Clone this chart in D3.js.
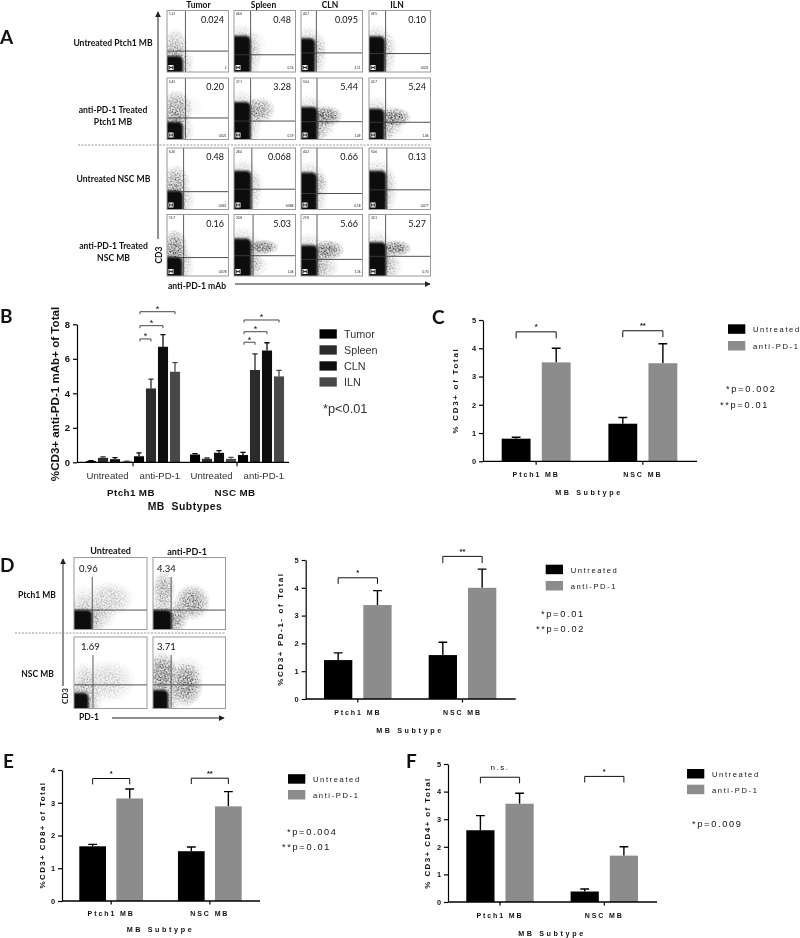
<!DOCTYPE html>
<html>
<head>
<meta charset="utf-8">
<title>anti-PD-1 flow panels</title>
<script src="https://cdnjs.cloudflare.com/ajax/libs/d3/7.8.5/d3.min.js"></script>
<style>
	html, body { margin: 0; padding: 0; background: #fff; }
	svg { display: block; filter: blur(0.3px); }
	text { fill: #111; }
	.arial { font-family: "Liberation Sans", Arial, sans-serif; }
	.lato { font-family: Lato, "Open Sans", sans-serif; }
</style>
</head>
<body>
<script>
//wrap everything in a self-executing function, same as the rest of our figures
(function(){

	//---- flow plots, panel A: 4 rows x 4 tissues
	var tissues = ["Tumor", "Spleen", "CLN", "ILN"];
	var bigA = [
		["0.024", "0.48", "0.095", "0.10"],
		["0.20", "3.28", "5.44", "5.24"],
		["0.48", "0.068", "0.66", "0.13"],
		["0.16", "5.03", "5.66", "5.27"]
	];
	var topLeftA = [
		["1.12", "46.0", "40.7", "49.5"],
		["5.43", "37.1", "50.4", "42.7"],
		["6.26", "28.4", "40.2", "50.6"],
		["15.7", "20.8", "27.8", "30.1"]
	];
	var bottomRightA = [
		["2", "0.16", "2.11", "0.031"],
		["0.021", "0.19", "1.49", "1.06"],
		["0.061", "0.088", "0.18", "0.077"],
		["0.078", "1.46", "1.36", "0.70"]
	];
	//gate positions as a fraction of each plot's axes
	var gateXA = [
		[0.30, 0.27, 0.25, 0.27],
		[0.30, 0.27, 0.26, 0.27],
		[0.27, 0.29, 0.26, 0.29],
		[0.27, 0.31, 0.26, 0.27]
	];
	var gateYA = [
		[0.34, 0.28, 0.31, 0.30],
		[0.35, 0.30, 0.29, 0.28],
		[0.29, 0.33, 0.26, 0.32],
		[0.30, 0.33, 0.27, 0.32]
	];
	//extent of the solid black population [x, y]
	var denseA = [
		[[0.26, 0.26], [0.27, 0.59], [0.23, 0.55], [0.26, 0.58]],
		[[0.26, 0.29], [0.27, 0.61], [0.27, 0.53], [0.25, 0.50]],
		[[0.26, 0.31], [0.28, 0.63], [0.26, 0.60], [0.28, 0.63]],
		[[0.25, 0.31], [0.28, 0.61], [0.27, 0.50], [0.28, 0.55]]
	];
	//speckled populations [cx, cy, rx, ry, density]
	var cloudsA = [
		[[[0.13, 0.42, 0.22, 0.30, 0.45]], [[0.32, 0.45, 0.25, 0.25, 0.12]], [[0.27, 0.42, 0.20, 0.22, 0.18]], [[0.30, 0.45, 0.18, 0.22, 0.12]]],
		[[[0.15, 0.50, 0.28, 0.32, 0.7], [0.42, 0.55, 0.2, 0.2, 0.08]], [[0.42, 0.48, 0.26, 0.22, 0.7]], [[0.42, 0.38, 0.26, 0.18, 1], [0.30, 0.18, 0.28, 0.2, 0.3]], [[0.43, 0.36, 0.26, 0.17, 1], [0.30, 0.18, 0.28, 0.2, 0.3]]],
		[[[0.14, 0.47, 0.24, 0.26, 0.6]], [[0.32, 0.45, 0.2, 0.25, 0.1]], [[0.31, 0.45, 0.14, 0.17, 0.3]], [[0.32, 0.45, 0.16, 0.25, 0.1]]],
		[[[0.13, 0.47, 0.22, 0.30, 0.85], [0.30, 0.30, 0.15, 0.2, 0.1]], [[0.47, 0.47, 0.27, 0.13, 1], [0.35, 0.18, 0.22, 0.2, 0.25]], [[0.44, 0.42, 0.27, 0.17, 1], [0.35, 0.15, 0.28, 0.22, 0.35]], [[0.45, 0.45, 0.25, 0.14, 1], [0.35, 0.15, 0.22, 0.22, 0.25]]]
	];

	//---- flow plots, panel D
	var bigD = ["0.96", "4.34", "1.69", "3.71"];
	var gateXD = [0.25, 0.25, 0.26, 0.25];
	var gateYD = [0.27, 0.27, 0.33, 0.33];
	var denseD = [[0.25, 0.27], [0.26, 0.27], [0.20, 0.22], [0.21, 0.26]];
	var cloudsD = [
		[[0.48, 0.42, 0.36, 0.26, 0.35], [0.35, 0.18, 0.25, 0.2, 0.25], [0.12, 0.45, 0.14, 0.2, 0.15]],
		[[0.15, 0.56, 0.17, 0.26, 0.6], [0.54, 0.38, 0.26, 0.26, 0.8], [0.34, 0.16, 0.16, 0.2, 0.5]],
		[[0.45, 0.38, 0.42, 0.32, 0.3], [0.13, 0.42, 0.16, 0.25, 0.25]],
		[[0.13, 0.50, 0.22, 0.30, 0.9], [0.46, 0.33, 0.24, 0.32, 0.9], [0.45, 0.55, 0.3, 0.2, 0.2]]
	];

	//---- panel B bars
	var groups = ["Ptch1 MB", "NSC MB"];
	var treatments = ["Untreated", "anti-PD-1"];
	var legendB = ["Tumor", "Spleen", "CLN", "ILN"];
	var colorsB = ["#030303", "#2b2b2b", "#0d0d0d", "#484848"];
	var meansB = [
		[0.08, 0.26, 0.18, 0.05, 0.35, 4.28, 6.70, 5.25],
		[0.45, 0.20, 0.55, 0.20, 0.42, 5.35, 6.48, 4.98]
	];
	var topsB = [
		[0.10, 0.31, 0.27, 0.07, 0.55, 4.82, 7.40, 5.78],
		[0.50, 0.25, 0.68, 0.28, 0.58, 6.28, 6.93, 5.33]
	];
	//[from bar, to bar, height] for each bracket
	var bracketsB = [
		[[4, 7, 8.73], [4, 6, 7.92], [4, 5, 7.15]],
		[[4, 7, 8.25], [4, 6, 7.57], [4, 5, 6.96]]
	];

	//---- panels C to F, two bars in each group
	var meansC = [[0.80, 3.50], [1.33, 3.47]];
	var topsC = [[0.85, 4.00], [1.55, 4.16]];
	var bracketsC = [[4.58, 4.35], [4.62, 4.39]];
	var starsC = ["*", "**"];

	var meansD = [[1.40, 3.38], [1.58, 4.00]];
	var topsD = [[1.66, 3.90], [2.04, 4.67]];
	var bracketsD = [[4.36, 4.14], [5.13, 4.89]];
	var starsD = ["*", "**"];

	var meansE = [[1.67, 3.13], [1.52, 2.89]];
	var topsE = [[1.73, 3.42], [1.65, 3.34]];
	var bracketsE = [[3.74, 3.56], [3.75, 3.57]];
	var starsE = ["*", "**"];

	var meansF = [[2.60, 3.56], [0.38, 1.68]];
	var topsF = [[3.13, 3.94], [0.47, 2.00]];
	var bracketsF = [[4.52, 4.30], [4.55, 4.33]];
	var starsF = ["n.s.", "*"];

	var twoColors = ["#000000", "#8c8c8c"];

	//hand placed dots for the speckle tile
	var speckleX = [1,4,7,10,12,2,5,8,11,0.5,3,6,9,12.5,1.5,4.5,7.5,10.5,2.5,5.5,9,11.5,0.5,3.5,6.5,8.5,12,1.5,5,7,10,3,11.5,6];
	var speckleY = [0.5,1.5,0.8,2,0.6,3,3.6,2.8,4,5,5.4,4.8,5.8,6.2,7,7.4,6.6,7.8,9,8.6,9.4,8.8,10.6,10.9,10.2,11.2,10.4,12.2,12.5,11.9,12.3,2.2,12.6,6.2];

	var svg = d3.select("body").append("svg")
		.attr("width", 800)
		.attr("height", 938);

	var defs = svg.append("defs");

	function addSpeckle(id, transform, r){
		var pat = defs.append("pattern")
			.attr("id", id)
			.attr("patternUnits", "userSpaceOnUse")
			.attr("patternTransform", transform)
			.attr("width", 13)
			.attr("height", 13);
		pat.selectAll("circle")
			.data(d3.range(speckleX.length))
			.enter().append("circle")
			.attr("cx", function(i){ return speckleX[i]; })
			.attr("cy", function(i){ return speckleY[i]; })
			.attr("r", r)
			.attr("fill", "#000");
	}
	addSpeckle("speckleA", "rotate(11)", 0.5);
	addSpeckle("speckleB", "rotate(57) scale(1.27)", 0.4);

	var fade = defs.append("radialGradient").attr("id", "fade");
	fade.append("stop").attr("offset", "35%").attr("stop-color", "#fff");
	fade.append("stop").attr("offset", "100%").attr("stop-color", "#000");

	defs.append("mask")
		.attr("id", "softEdge")
		.attr("maskContentUnits", "objectBoundingBox")
		.attr("x", 0).attr("y", 0).attr("width", 1).attr("height", 1)
		.append("rect")
		.attr("width", 1).attr("height", 1)
		.attr("fill", "url(#fade)");

	defs.append("filter")
		.attr("id", "soft")
		.attr("x", "-20%").attr("y", "-20%").attr("width", "140%").attr("height", "140%")
		.append("feGaussianBlur")
		.attr("stdDeviation", 1.1);

	var arrow = defs.append("marker")
		.attr("id", "arrowHead")
		.attr("viewBox", "0 0 8 8")
		.attr("refX", 7).attr("refY", 4)
		.attr("markerWidth", 6).attr("markerHeight", 6)
		.attr("markerUnits", "userSpaceOnUse")
		.attr("orient", "auto");
	arrow.append("path").attr("d", "M0,0L8,4L0,8Z").attr("fill", "#222");

	function label(str, x, y, opts){
		opts = opts || {};
		var t = svg.append("text")
			.attr("class", opts.font || "lato")
			.attr("x", x)
			.attr("y", y)
			.attr("text-anchor", opts.anchor || "middle")
			.style("font-size", (opts.size || 9) + "px")
			.style("font-weight", opts.weight || "bold")
			.text(str);
		if (opts.spacing) t.style("letter-spacing", opts.spacing + "px");
		if (opts.rotate) t.attr("transform", "rotate(-90," + x + "," + y + ")");
		return t;
	}

	var clipCount = 0;

	//one flow cytometry plot, everything in 0-1 axis fractions
	function flowPlot(box, p){
		var fx = d3.scaleLinear().domain([0, 1]).range([box.x0, box.x1]);
		var fy = d3.scaleLinear().domain([0, 1]).range([box.y1, box.y0]);
		var id = "plotClip" + (clipCount++);
		defs.append("clipPath").attr("id", id).append("rect")
			.attr("x", box.x0).attr("y", box.y0)
			.attr("width", box.x1 - box.x0).attr("height", box.y1 - box.y0);

		var g = svg.append("g");
		var inner = g.append("g").attr("clip-path", "url(#" + id + ")");

		//dots thrown off the edge of the black population count as one more cloud
		var clouds = p.clouds.concat([[p.dense[0] / 2, p.dense[1] / 2, p.dense[0] / 2 + 0.2, p.dense[1] / 2 + 0.22, 0.5]]);

		clouds.forEach(function(d){
			var x = fx(d[0] - d[2]), y = fy(d[1] + d[3]);
			var w = fx(d[0] + d[2]) - x, h = fy(d[1] - d[3]) - y;
			[["#000", d[4] * 0.16], ["url(#speckleA)", d[4]], ["url(#speckleB)", d[4]]].forEach(function(layer){
				inner.append("rect")
					.attr("x", x).attr("y", y)
					.attr("width", w).attr("height", h)
					.attr("fill", layer[0])
					.attr("fill-opacity", layer[1])
					.attr("mask", "url(#softEdge)");
			});
		});

		inner.append("rect")
			.attr("x", fx(-0.2))
			.attr("y", fy(p.dense[1]))
			.attr("width", fx(p.dense[0]) - fx(-0.2))
			.attr("height", fy(-0.2) - fy(p.dense[1]))
			.attr("rx", 5)
			.attr("fill", "#0a0a0a")
			.attr("filter", "url(#soft)");

		//gates
		g.append("line")
			.attr("x1", fx(p.gateX)).attr("x2", fx(p.gateX))
			.attr("y1", fy(p.gateTop === undefined ? 1 : p.gateTop)).attr("y2", fy(0))
			.attr("stroke", "#4a4a4a").attr("stroke-width", 0.9);
		g.append("line")
			.attr("x1", fx(0)).attr("x2", fx(1))
			.attr("y1", fy(p.gateY)).attr("y2", fy(p.gateY))
			.attr("stroke", "#3c3c3c").attr("stroke-width", 0.9);

		g.append("rect")
			.attr("x", box.x0).attr("y", box.y0)
			.attr("width", box.x1 - box.x0).attr("height", box.y1 - box.y0)
			.attr("fill", "none")
			.attr("stroke", "#9a9a9a").attr("stroke-width", 1);
	}

	function scaleMark(x, y){
		svg.append("rect").attr("x", x).attr("y", y).attr("width", 5).attr("height", 5).attr("fill", "#fff");
		svg.append("path")
			.attr("d", "M" + (x + 1.2) + "," + (y + 0.8) + "V" + (y + 4.2)
				+ "M" + (x + 3.8) + "," + (y + 0.8) + "V" + (y + 4.2)
				+ "M" + (x + 1.2) + "," + (y + 2.5) + "H" + (x + 3.8))
			.attr("stroke", "#000").attr("stroke-width", 0.8).attr("fill", "none");
	}

	//panel A grid
	var colLeft = [167, 234, 301, 369];
	var rowTop = [10.5, 78, 148, 214.5];
	var plotW = 61.5, plotH = 61.5;

	rowTop.forEach(function(top, r){
		colLeft.forEach(function(left, c){
			var box = {x0: left, x1: left + plotW, y0: top, y1: top + plotH};
			flowPlot(box, {
				clouds: cloudsA[r][c],
				dense: denseA[r][c],
				gateX: gateXA[r][c],
				gateY: gateYA[r][c]
			});
			scaleMark(left + 1.5, top + plotH - 7);
			label(bigA[r][c], box.x1 - 4.5, top + 12, {anchor: "end", size: 9, weight: "normal"});
			label(topLeftA[r][c], left + 2, top + 4.8, {anchor: "start", size: 3, weight: "normal"});
			label(bottomRightA[r][c], box.x1 - 2, box.y1 - 3, {anchor: "end", size: 3, weight: "normal"});
		});
	});

	tissues.forEach(function(t, i){
		label(t, [198.5, 263.5, 330, 397][i], 7.5, {size: 8.5});
	});
	label("Untreated Ptch1 MB", 113, 46, {size: 8.6});
	label("anti-PD-1 Treated", 113, 113, {size: 8.6});
	label("Ptch1 MB", 113, 124.5, {size: 8.6});
	label("Untreated NSC MB", 113.5, 182, {size: 8.6});
	label("anti-PD-1 Treated", 113.5, 249, {size: 8.6});
	label("NSC MB", 113.5, 260.5, {size: 8.6});
	label("CD3", 161.5, 255, {size: 8.5, rotate: true});
	label("anti-PD-1 mAb", 197, 289, {size: 8.6});

	function arrowLine(x1, y1, x2, y2){
		svg.append("line")
			.attr("x1", x1).attr("y1", y1).attr("x2", x2).attr("y2", y2)
			.attr("stroke", "#222").attr("stroke-width", 1)
			.attr("marker-end", "url(#arrowHead)");
	}
	function dashedLine(x1, x2, y){
		svg.append("line")
			.attr("x1", x1).attr("x2", x2).attr("y1", y).attr("y2", y)
			.attr("stroke", "#8a8a8a").attr("stroke-width", 0.9)
			.attr("stroke-dasharray", "2,1.4");
	}
	arrowLine(158, 239, 158, 12);
	arrowLine(235, 284, 430, 284);
	dashedLine(78, 431, 145);

	//panel D grid
	var boxesD = [
		{x0: 74, x1: 147, y0: 557.5, y1: 629.5},
		{x0: 153, x1: 225.5, y0: 557.5, y1: 629.5},
		{x0: 74, x1: 147, y0: 637, y1: 708.5},
		{x0: 153, x1: 225.5, y0: 637, y1: 708.5}
	];
	var bigDx = [79, 157, 81, 157];
	var bigDy = [572, 572, 649.5, 649.5];
	boxesD.forEach(function(box, i){
		flowPlot(box, {
			clouds: cloudsD[i],
			dense: denseD[i],
			gateX: gateXD[i],
			gateY: gateYD[i],
			gateTop: i < 2 ? 0.73 : 0.75
		});
		label(bigD[i], bigDx[i], bigDy[i], {anchor: "start", size: 9.5, weight: "normal"});
	});
	label("Untreated", 110.5, 554, {size: 9});
	label("anti-PD-1", 187, 555, {size: 9});
	label("Ptch1 MB", 37, 598, {size: 8.5});
	label("NSC MB", 37.5, 677, {size: 8.5});
	label("CD3", 68, 696, {size: 8, rotate: true});
	label("PD-1", 89, 720, {size: 8.5});
	arrowLine(63, 686, 63, 559);
	arrowLine(112, 718, 224, 718);
	dashedLine(15, 225.5, 633);

	//panel letters
	var letters = ["A", "B", "C", "D", "E", "F"];
	var letterX = [0, 0, 432, 0, 3, 406];
	var letterY = [44, 323, 324, 572, 768, 768];
	letters.forEach(function(l, i){
		label(l, letterX[i], letterY[i], {anchor: "start", size: 19});
	});

	//shared y axis + baseline
	function chartAxes(y, xAxisLeft, xAxisRight, yTicks, fontSize, spacing){
		var yAxis = svg.append("g")
			.attr("transform", "translate(" + xAxisLeft + ",0)")
			.call(d3.axisLeft(y).tickValues(yTicks).tickFormat(d3.format("d")).tickSize(4).tickSizeOuter(0));
		yAxis.selectAll("path, line").attr("stroke", "#000").attr("stroke-width", 1.2);
		yAxis.selectAll("text")
			.attr("class", "arial")
			.attr("fill", "#111")
			.style("font-size", fontSize + "px")
			.style("font-weight", "bold")
			.style("letter-spacing", spacing + "px");
		svg.append("line")
			.attr("x1", xAxisLeft).attr("x2", xAxisRight)
			.attr("y1", y(0)).attr("y2", y(0))
			.attr("stroke", "#000").attr("stroke-width", 1.3);
	}

	function errorBar(x, yBase, yTop, halfCap, color, w){
		svg.append("path")
			.attr("d", "M" + x + "," + yBase + "V" + yTop + "M" + (x - halfCap) + "," + yTop + "H" + (x + halfCap))
			.attr("fill", "none")
			.attr("stroke", color)
			.attr("stroke-width", w);
	}

	function barLabel(str, x, y, size, spacing, weight){
		return label(str, x, y, {font: "arial", size: size, spacing: spacing, weight: weight || "bold"});
	}

	//panel C-F layout: two bars per group
	function twoBarPanel(c){
		var y = d3.scaleLinear().domain([0, c.yMax]).range([c.y0, c.yTop]);
		var x0 = d3.scaleBand().domain(groups).range([c.barLeft, c.barRight]).paddingInner(0.354).paddingOuter(0);
		var x1 = d3.scaleBand().domain(treatments).range([0, x0.bandwidth()]).paddingInner(0.28).paddingOuter(0);

		groups.forEach(function(g, i){
			treatments.forEach(function(t, j){
				var cx = x0(g) + x1(t) + x1.bandwidth() / 2;
				errorBar(cx, y(c.means[i][j]), y(c.tops[i][j]), 4.4, "#000", 1.4);
				svg.append("rect")
					.attr("x", x0(g) + x1(t))
					.attr("y", y(c.means[i][j]))
					.attr("width", x1.bandwidth())
					.attr("height", y(0) - y(c.means[i][j]))
					.attr("fill", twoColors[j]);
			});

			//bracket
			var left = x0(g) + x1(treatments[0]) + x1.bandwidth() / 2;
			var right = x0(g) + x1(treatments[1]) + x1.bandwidth() / 2;
			svg.append("path")
				.attr("d", "M" + left + "," + y(c.brackets[i][1]) + "V" + y(c.brackets[i][0]) + "H" + right + "V" + y(c.brackets[i][1]))
				.attr("fill", "none").attr("stroke", "#111").attr("stroke-width", 1);
			var isNs = c.stars[i] === "n.s.";
			barLabel(c.stars[i], (left + right) / 2, y(c.brackets[i][0]) - (isNs ? 7 : 2.5), isNs ? 8 : 7.5, isNs ? 1.5 : 0, isNs ? "normal" : "bold");

			//tick and group label
			svg.append("line")
				.attr("x1", x0(g) + x0.bandwidth() / 2).attr("x2", x0(g) + x0.bandwidth() / 2)
				.attr("y1", y(0)).attr("y2", y(0) + 3.5)
				.attr("stroke", "#000").attr("stroke-width", 1.2);
			barLabel(g, x0(g) + x0.bandwidth() / 2, c.groupY, 7, 1.9);
		});

		chartAxes(y, c.axisLeft, c.axisRight, d3.range(0, c.yMax + 1), 7.4, 0);
		barLabel(c.yTitle, c.yTitleX, c.yTitleY, 8, c.yTitleSpacing).attr("transform", "rotate(-90," + c.yTitleX + "," + c.yTitleY + ")");
		barLabel("MB Subtype", c.xTitleX, c.xTitleY, 7.2, 2.6);

		treatments.forEach(function(t, j){
			svg.append("rect")
				.attr("x", c.legendX)
				.attr("y", c.legendY[j])
				.attr("width", 17.3)
				.attr("height", 9.5)
				.attr("fill", twoColors[j]);
			label(t, c.legendX + 25, c.legendY[j] + 7.8, {font: "arial", anchor: "start", size: 7.6, spacing: 1.6, weight: "normal"});
		});
		c.pLabels.forEach(function(p, i){
			label(p, c.pX[i], c.pY[i], {font: "arial", anchor: "start", size: 9.2, spacing: 1.7, weight: "normal"});
		});
	}

	twoBarPanel({
		means: meansC, tops: topsC, brackets: bracketsC, stars: starsC,
		yMax: 5, y0: 461.3, yTop: 320,
		barLeft: 501.7, barRight: 677.3, axisLeft: 483, axisRight: 697,
		groupY: 477, yTitle: "% CD3+ of Total", yTitleX: 458, yTitleY: 390.5, yTitleSpacing: 1.7,
		xTitleX: 589, xTitleY: 495,
		legendX: 728, legendY: [324.3, 341],
		pLabels: ["*p=0.002", "**p=0.01"], pX: [726, 720], pY: [392, 408]
	});

	twoBarPanel({
		means: meansD, tops: topsD, brackets: bracketsD, stars: starsD,
		yMax: 5, y0: 699, yTop: 560,
		barLeft: 324, barRight: 496.3, axisLeft: 305.7, axisRight: 515.7,
		groupY: 714.5, yTitle: "%CD3+  PD-1- of Total", yTitleX: 283, yTitleY: 629, yTitleSpacing: 1.6,
		xTitleX: 410, xTitleY: 732.5,
		legendX: 545.7, legendY: [564.7, 581],
		pLabels: ["*p=0.01", "**p=0.02"], pX: [541, 536], pY: [616.7, 631.7]
	});

	twoBarPanel({
		means: meansE, tops: topsE, brackets: bracketsE, stars: starsE,
		yMax: 4, y0: 901, yTop: 770,
		barLeft: 79.3, barRight: 241.7, axisLeft: 62, axisRight: 260,
		groupY: 916, yTitle: "%CD3+ CD8+ of Total", yTitleX: 44.5, yTitleY: 835, yTitleSpacing: 1.35,
		xTitleX: 160.5, xTitleY: 931.5,
		legendX: 288, legendY: [774.2, 790],
		pLabels: ["*p=0.004", "**p=0.01"], pX: [287, 282], pY: [835, 850]
	});

	twoBarPanel({
		means: meansF, tops: topsF, brackets: bracketsF, stars: starsF,
		yMax: 5, y0: 902, yTop: 764,
		barLeft: 466.3, barRight: 638, axisLeft: 448, axisRight: 657,
		groupY: 918, yTitle: "% CD3+ CD4+ of Total", yTitleX: 430, yTitleY: 833, yTitleSpacing: 1.4,
		xTitleX: 552, xTitleY: 936,
		legendX: 687, legendY: [769, 784.7],
		pLabels: ["*p=0.009"], pX: [692], pY: [827]
	});

	//panel B, eight bars per group
	var yB = d3.scaleLinear().domain([0, 8]).range([462.3, 324.3]);
	var groupB = d3.scaleBand().domain(groups).range([85, 285]).paddingInner(0.077).paddingOuter(0);
	var barB = d3.scaleBand().domain(d3.range(8)).range([0, groupB.bandwidth()]).paddingInner(0.16).paddingOuter(0.08);

	groups.forEach(function(g, i){
		function barMid(k){ return groupB(g) + barB(k) + barB.bandwidth() / 2; }
		d3.range(8).forEach(function(k){
			var color = colorsB[k % 4];
			errorBar(barMid(k), yB(meansB[i][k]), yB(topsB[i][k]), 2.6, color, 1.3);
			svg.append("rect")
				.attr("x", groupB(g) + barB(k))
				.attr("y", yB(meansB[i][k]))
				.attr("width", barB.bandwidth())
				.attr("height", yB(0) - yB(meansB[i][k]))
				.attr("fill", color);
		});
		bracketsB[i].forEach(function(b){
			var left = barMid(b[0]) + 1, right = barMid(b[1]);
			svg.append("path")
				.attr("d", "M" + left + "," + (yB(b[2]) + 2.5) + "V" + yB(b[2]) + "H" + right + "V" + (yB(b[2]) + 2.5))
				.attr("fill", "none").attr("stroke", "#333").attr("stroke-width", 0.9);
			label("*", (left + right) / 2, yB(b[2]) + 0.3, {font: "arial", size: 9, weight: "normal"});
		});
		treatments.forEach(function(t, j){
			var mid = groupB(g) + groupB.bandwidth() * (j === 0 ? 0.235 : 0.78);
			label(t, mid, 479, {font: "arial", size: 9.6, weight: "normal"}).style("fill", "#333");
		});
		svg.append("line")
			.attr("x1", groupB(g) + groupB.bandwidth() / 2).attr("x2", groupB(g) + groupB.bandwidth() / 2)
			.attr("y1", yB(0)).attr("y2", yB(0) + 4)
			.attr("stroke", "#000").attr("stroke-width", 1.1);
		barLabel(g, groupB(g) + groupB.bandwidth() / 2 - 2, 495.5, 9.8, 0.4);
	});
	chartAxes(yB, 77, 289, [0, 2, 4, 6, 8], 9.5, 0);
	barLabel("%CD3+ anti-PD-1 mAb+ of Total", 59, 394, 11.6, 0).attr("transform", "rotate(-90,59,394)");
	barLabel("MB  Subtypes", 185, 509.5, 10.4, 0.5).style("white-space", "pre");

	var legendYB = [329.3, 345.3, 361.3, 377.3];
	legendB.forEach(function(name, i){
		svg.append("rect")
			.attr("x", 319.5).attr("y", legendYB[i])
			.attr("width", 17.3).attr("height", 9.3)
			.attr("fill", colorsB[i]);
		label(name, 344, legendYB[i] + 8.5, {font: "arial", anchor: "start", size: 10.8, weight: "normal"}).style("fill", "#333");
	});
	label("*p<0.01", 323, 413, {font: "arial", anchor: "start", size: 12.8, weight: "normal"}).style("fill", "#333");

})();
</script>
</body>
</html>
